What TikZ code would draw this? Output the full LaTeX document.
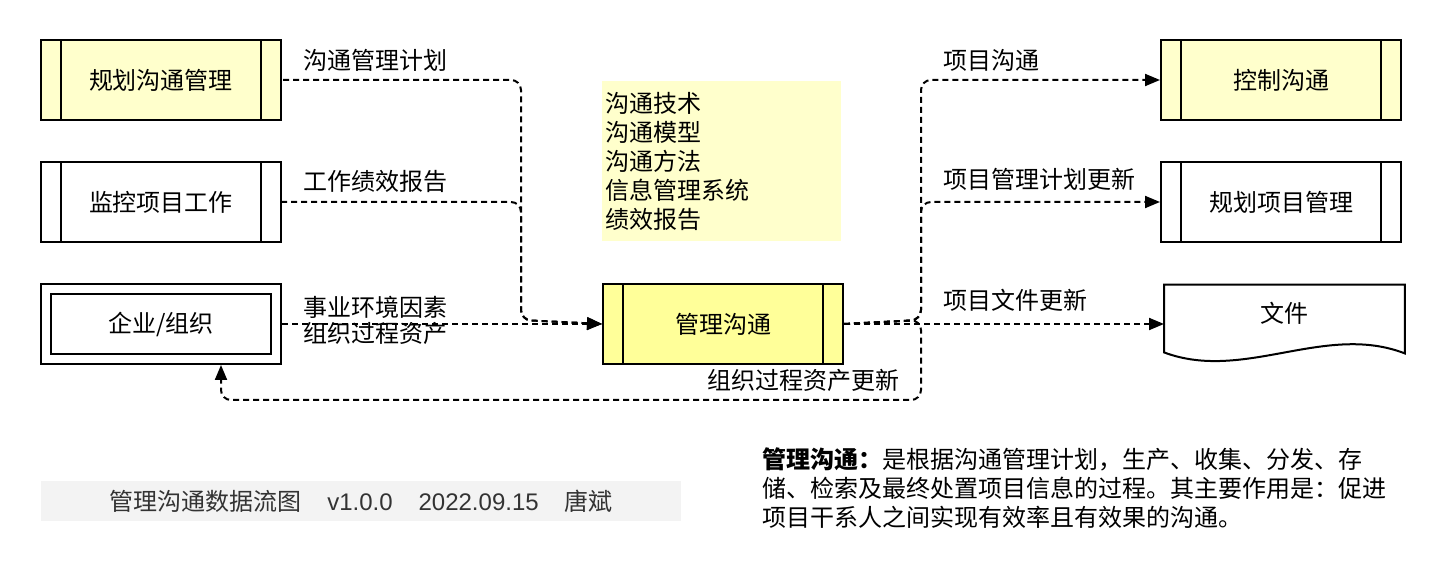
\documentclass[tikz,border=0pt]{standalone}
\usepackage{fontspec}
\setmainfont{Noto Sans CJK SC}
\newfontfamily\latinfont{Liberation Sans}
\usetikzlibrary{arrows.meta,calc,positioning}
\definecolor{paleyellow}{HTML}{FFFFCC}
\definecolor{deepyellow}{HTML}{FFFF99}
\definecolor{footgray}{HTML}{F3F3F3}
\definecolor{footink}{HTML}{333333}

\begin{document}
\begin{tikzpicture}[x=0.5pt,y=-0.5pt,>={Triangle[length=7.5pt,width=6pt]},
    every node/.style={font=\fontsize{12pt}{14.5pt}\selectfont},
    proc/.style={draw,line width=1pt,minimum width=120pt,minimum height=40pt,inner sep=0pt,
      path picture={\draw[line width=1pt]
        ([xshift=10pt]path picture bounding box.north west) -- ([xshift=10pt]path picture bounding box.south west)
        ([xshift=-10pt]path picture bounding box.north east) -- ([xshift=-10pt]path picture bounding box.south east);}},
    extbox/.style={draw,line width=1pt,fill=white,minimum width=120pt,minimum height=40pt,inner sep=0pt,
      path picture={\draw[line width=1pt]
        ([shift={(5pt,-5pt)}]path picture bounding box.north west) rectangle ([shift={(-5pt,5pt)}]path picture bounding box.south east);}},
    note/.style={fill=paleyellow,minimum width=119.5pt,minimum height=80pt,text width=116.5pt,inner xsep=1.5pt,align=left},
    flow/.style={draw,line width=1pt,dash pattern=on 3pt off 2pt,rounded corners=5pt},
    lbl/.style={inner sep=0pt,anchor=west}]
  \useasboundingbox (0,0) rectangle (1442,582);

  \node[proc,fill=paleyellow] (plan) at (161,80) {规划沟通管理};
  \node[proc,fill=white,below=20pt of plan] (monitor) {监控项目工作};
  \node[extbox,below=20pt of monitor] (org) {企业/组织};
  \node[proc,fill=deepyellow,right=160pt of org] (manage) {管理沟通};
  \node[note,anchor=north west] (tools) at (602,81) {沟通技术\\沟通模型\\沟通方法\\信息管理系统\\绩效报告};

  \node[proc,fill=paleyellow] (ctrl) at (1281,80) {控制沟通};
  \node[proc,fill=white,below=20pt of ctrl] (planpm) {规划项目管理};
  \node[minimum width=120pt,minimum height=39pt,inner sep=0pt,text depth=12pt,right=160pt of manage] (doc) {文件};
  \draw[line width=1pt] (doc.north west) -- (doc.north east) -- ($(doc.south east)+(0,-10)$)
    .. controls ($(doc.south east)+(-80,-41)$) and ($(doc.south west)+(80,19)$) .. ($(doc.south west)+(0,-11)$) -- cycle;

  \coordinate (jl) at (521,320);
  \coordinate (jr) at (921,320);
  \coordinate (jb) at (921,400);

  \draw[flow,<-] (manage.west) -- (jl) |- (plan.east);
  \draw[flow,<-] (manage.west) -- (jl) |- (monitor.east);
  \draw[flow,<-] (manage.west) -- (org.east);
  \draw[flow,->] (manage.east) -- (doc.west);
  \draw[flow,->] (manage.east) -- (jr) |- (ctrl.west);
  \draw[flow,->] (manage.east) -- (jr) |- (planpm.west);
  \draw[flow,->] (manage.east) -- (jr) -- (jb) -| ([xshift=30pt]org.south);

  \node[lbl] (lplan) at (303,60) {沟通管理计划};
  \node[lbl] (lperf) at (303,181) {工作绩效报告};
  \node[lbl,align=left,font=\fontsize{12pt}{13pt}\selectfont] (lenv) at (303,320) {事业环境因素\\组织过程资产};
  \node[lbl] (lcomm) at (943,60) {项目沟通};
  \node[lbl] (lpmp) at (943,179) {项目管理计划更新};
  \node[lbl] (ldoc) at (943,300) {项目文件更新};
  \node[lbl,anchor=east] (lopa) at (900,380) {组织过程资产更新};

  \node[fill=footgray,text=footink,minimum width=320pt,minimum height=20pt,inner sep=0pt] (foot) at (361,501)
    {管理沟通数据流图\hspace{13pt}{\latinfont v1.0.0}\hspace{13pt}{\latinfont 2022.09.15}\hspace{13pt}唐斌};
  \node[anchor=north west,align=left,inner sep=0pt] (desc) at (762,447)
    {\textbf{管理沟通：}是根据沟通管理计划，生产、收集、分发、存\\储、检索及最终处置项目信息的过程。其主要作用是：促进\\项目干系人之间实现有效率且有效果的沟通。};
\end{tikzpicture}
\end{document}
